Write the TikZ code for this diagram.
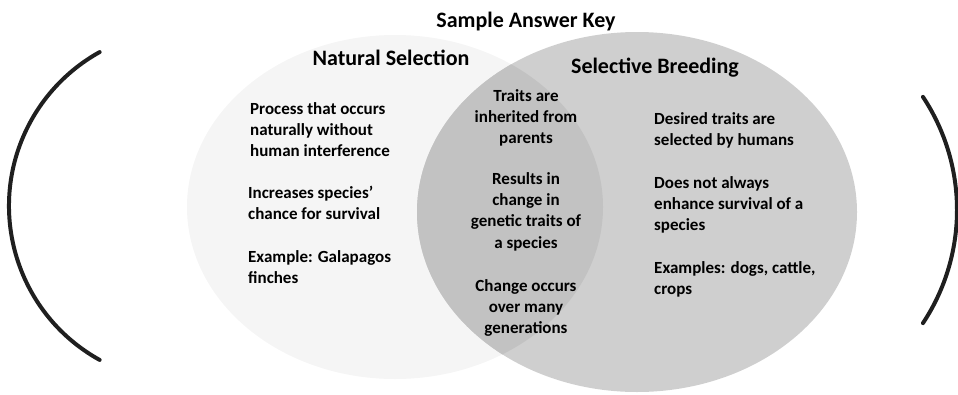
\documentclass[tikz,border=0pt]{standalone}
\usepackage{fontspec}
\setmainfont{Carlito}
\usetikzlibrary{positioning}
\tikzset{
	venntext/.style={font=\bfseries\fontsize{17}{21.3}\selectfont, align=left, inner sep=0pt, anchor=north west},
	venncentre/.style={venntext, align=center, anchor=north},
	venntitle/.style={font=\bfseries\fontsize{22}{24}\selectfont, inner sep=0pt, anchor=base},
	bracket/.style={line width=1.4mm, color=black!88, line cap=round}
}
\def\natural{(395, 207) ellipse (208 and 172)}
\def\breeding{(637, 212) ellipse (220 and 180)}

\begin{document}
\begin{tikzpicture}[x=1pt, y=-1pt]
	%%%%% START %%%%%
	\useasboundingbox (0, 0) rectangle (958, 394);
	
	\fill[black!4] \natural;
	\fill[black!19] \breeding;
	\begin{scope}
		\clip \natural;
		\fill[black!24] \breeding;
	\end{scope}
	
	\draw[bracket] (185, 206) ++(119:176) arc (119:241:176);
	\draw[bracket] (752, 210) ++(-33.5:205) arc (-33.5:33.5:205);
	
	\node[venntitle] (key) at (526, 27) {Sample Answer Key};
	\node[venntitle] (natural) at (391, 65) {Natural Selection};
	\node[venntitle] (breeding) at (655, 73) {Selective Breeding};
	
	% natural selection only
	\node[venntext] (nat1) at (250, 102) {Process that occurs\\naturally without\\human interference};
	\node[venntext] (nat2) at (248, 186) {Increases species'\\chance for survival};
	\node[venntext] (nat3) at (248, 250) {Example: Galapagos\\finches};
	
	% both
	\node[venncentre] (both1) at (526, 89) {Traits are\\inherited from\\parents};
	\node[venncentre] (both2) at (526, 172) {Results in\\change in\\genetic traits of\\a species};
	\node[venncentre] (both3) at (526, 279) {Change occurs\\over many\\generations};
	
	% selective breeding only
	\node[venntext] (sel1) at (654, 112) {Desired traits are\\selected by humans};
	\node[venntext] (sel2) at (654, 176) {Does not always\\enhance survival of a\\species};
	\node[venntext] (sel3) at (654, 261) {Examples: dogs, cattle,\\crops};
	%%%%% END %%%%%
\end{tikzpicture}
\end{document}
